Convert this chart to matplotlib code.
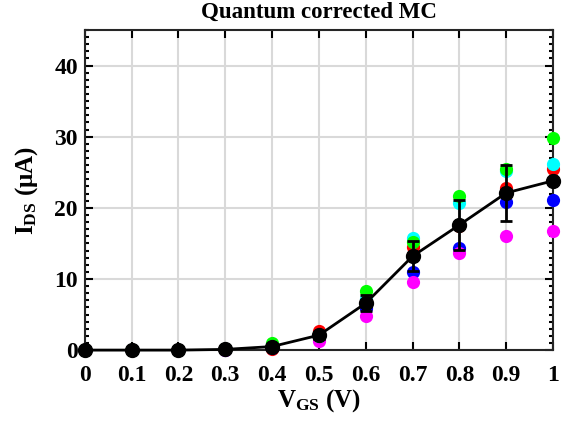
import matplotlib
matplotlib.use("Agg")
import matplotlib.pyplot as plt
from matplotlib.ticker import MultipleLocator

vgs = [0, 0.1, 0.2, 0.3, 0.4, 0.5, 0.6, 0.7, 0.8, 0.9, 1.0]
ids_red = [0, 0, 0, 0.2, 0.1, 2.7, 7.0, 14.5, 17.5, 22.8, 25.4]
ids_blue = [0, 0, 0, 0.0, 0.3, 1.9, 5.9, 11.0, 14.4, 20.8, 21.1]
ids_cyan = [0, 0, 0, 0.1, 0.6, 2.0, 7.2, 15.8, 20.7, 25.2, 26.1]
ids_green = [0, 0, 0, 0.1, 1.0, 2.0, 8.3, 15.2, 21.7, 25.5, 29.8]
ids_magenta = [0, 0, 0, 0.0, 0.4, 1.3, 4.8, 9.6, 13.7, 16.1, 16.8]
ids_mean = [0, 0, 0, 0.1, 0.5, 2.1, 6.6, 13.2, 17.6, 22.1, 23.8]
ids_err = [0, 0, 0, 0.1, 0.4, 0.5, 1.1, 2.1, 3.5, 3.9, 0.0]

title = "Quantum corrected MC"
xticks = [0, 0.1, 0.2, 0.3, 0.4, 0.5, 0.6, 0.7, 0.8, 0.9, 1]
xticklabels = ["0", "0.1", "0.2", "0.3", "0.4", "0.5", "0.6", "0.7", "0.8", "0.9", "1"]
yticks = [0, 10, 20, 30, 40]

plt.rcParams['font.family'] = ['Liberation Serif', 'DejaVu Serif']
plt.rcParams['font.weight'] = 'bold'
plt.rcParams['mathtext.fontset'] = 'custom'
plt.rcParams['mathtext.rm'] = 'Liberation Serif:bold'
plt.rcParams['mathtext.bf'] = 'Liberation Serif:bold'
plt.rcParams['mathtext.it'] = 'Liberation Serif:bold'

fig = plt.figure(figsize=(5.65, 4.28), dpi=100)
ax = fig.add_axes([0.150, 0.182, 0.829, 0.748])

ms = 9.5
series = [(ids_red, '#ff0000'), (ids_blue, '#0000ff'), (ids_magenta, '#ff00ff'),
          (ids_cyan, '#00ffff'), (ids_green, '#00ff00')]
for ys, c in series:
    ax.plot(vgs, ys, 'o', color=c, markersize=ms, markeredgewidth=0, zorder=3, clip_on=False)

ax.errorbar(vgs, ids_mean, yerr=ids_err, color='black', linewidth=2, marker='o',
            markersize=10, capsize=4, capthick=2, elinewidth=2, zorder=5, clip_on=False)

ax.set_xlim(0, 1)
ax.set_ylim(0, 45)
ax.set_xticks(xticks)
ax.set_xticklabels(xticklabels)
ax.set_yticks(yticks)
ax.yaxis.set_minor_locator(MultipleLocator(1))
ax.tick_params(axis='both', which='both', direction='in', top=True, right=True,
               labelsize=17, width=1.5)
ax.tick_params(axis='x', which='major', pad=11)
ax.tick_params(axis='y', which='major', pad=5)
ax.tick_params(axis='both', which='major', length=6)
ax.tick_params(axis='both', which='minor', length=3)
for lab in ax.get_xticklabels() + ax.get_yticklabels():
    lab.set_fontweight('bold')

ax.grid(True, which='major', color='#d9d9d9', linewidth=1.5)
ax.set_axisbelow(True)
for s in ax.spines.values():
    s.set_linewidth(1.5)
    s.set_color('#262626')

ax.set_title(title, fontsize=16.5, fontweight='bold', pad=9)
ax.set_xlabel(r'V$_{\mathrm{GS}}$ (V)', fontsize=18, fontweight='bold', va='top')
ax.xaxis.set_label_coords(0.5, -0.116)
ax.set_ylabel(r'I$_{\mathrm{DS}}$ ($\mu$A)', fontsize=18, fontweight='bold', labelpad=10)

fig.savefig('out.png', dpi=100)
